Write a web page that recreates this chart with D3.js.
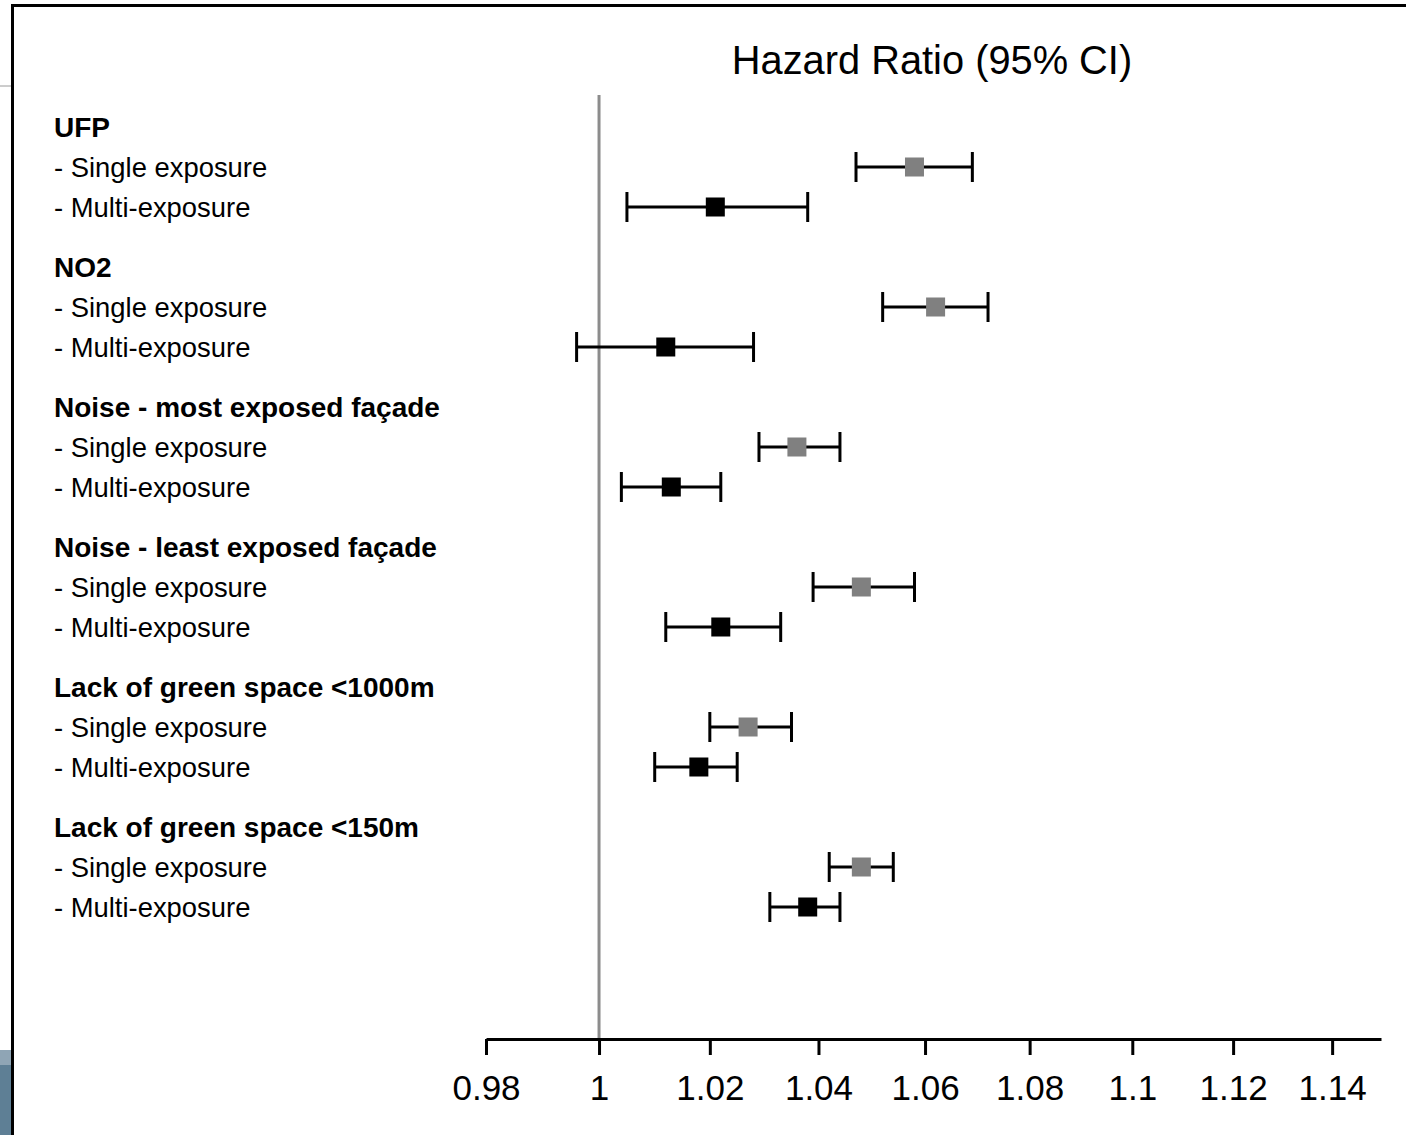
<!DOCTYPE html>
<html>
<head>
<meta charset="utf-8">
<script src="https://cdn.jsdelivr.net/npm/d3@7"></script>
<style>
  html, body { margin: 0; padding: 0; background: #fff; }
  svg { display: block; }
  text { font-family: "Liberation Sans", Arial, sans-serif; }
</style>
</head>
<body>
<svg id="chart" width="1406" height="1135"></svg>
<script>
// ---- data ----
const groups = [
  "UFP",
  "NO2",
  "Noise - most exposed façade",
  "Noise - least exposed façade",
  "Lack of green space <1000m",
  "Lack of green space <150m"
];
const rowLabels = ["- Single exposure", "- Multi-exposure"];
// single exposure: HR, lower, upper
const singleHR    = [1.058, 1.062, 1.036, 1.048, 1.027, 1.048];
const singleLower = [1.047, 1.052, 1.029, 1.039, 1.020, 1.042];
const singleUpper = [1.069, 1.072, 1.044, 1.058, 1.035, 1.054];
// multi-exposure
const multiHR    = [1.021, 1.012, 1.013, 1.022, 1.018, 1.038];
const multiLower = [1.005, 0.996, 1.004, 1.012, 1.010, 1.031];
const multiUpper = [1.038, 1.028, 1.022, 1.033, 1.025, 1.044];
const tickValues = [0.98, 1, 1.02, 1.04, 1.06, 1.08, 1.1, 1.12, 1.14];
const tickLabels = ["0.98", "1", "1.02", "1.04", "1.06", "1.08", "1.1", "1.12", "1.14"];
const title = "Hazard Ratio (95% CI)";

// ---- drawing ----
const svg = d3.select("#chart");

// page artifacts (frame)
svg.append("rect").attr("x", 0).attr("y", 1050).attr("width", 11).attr("height", 15).attr("fill", "#8fa5b5");
svg.append("rect").attr("x", 0).attr("y", 1065).attr("width", 11).attr("height", 70).attr("fill", "#5e7f95");
svg.append("line").attr("x1", 0).attr("x2", 11).attr("y1", 86).attr("y2", 86).attr("stroke", "#9a9a9a").attr("stroke-width", 1);
svg.append("line").attr("x1", 11).attr("x2", 1406).attr("y1", 5.5).attr("y2", 5.5).attr("stroke", "#000").attr("stroke-width", 3);
svg.append("line").attr("x1", 12.5).attr("x2", 12.5).attr("y1", 4).attr("y2", 1135).attr("stroke", "#000").attr("stroke-width", 3);

const x = d3.scaleLog().domain([0.98, 1.15]).range([486, 1381]);
const y = d3.scaleLinear().domain([0, 1]).range([127, 167]); // row index -> y

const rows = [];
groups.forEach((g, i) => {
  const base = i * 3.5;
  rows.push({type: "header", label: g, r: base});
  rows.push({type: "single", label: rowLabels[0], r: base + 1, hr: singleHR[i], lo: singleLower[i], hi: singleUpper[i]});
  rows.push({type: "multi", label: rowLabels[1], r: base + 2, hr: multiHR[i], lo: multiLower[i], hi: multiUpper[i]});
});

// title
svg.append("text").attr("x", 932).attr("y", 74).attr("text-anchor", "middle")
  .attr("font-size", 39.8).attr("fill", "#000").text(title);

// reference line at 1
svg.append("line").attr("x1", x(1)).attr("x2", x(1)).attr("y1", 95).attr("y2", 1039)
  .attr("stroke", "#8c8c8c").attr("stroke-width", 3);

// labels
svg.selectAll("text.lab").data(rows).enter().append("text")
  .attr("class", "lab")
  .attr("x", 54)
  .attr("y", d => y(d.r) + 9.5)
  .attr("font-size", d => d.type === "header" ? 28 : 27.4)
  .attr("font-weight", d => d.type === "header" ? "bold" : "normal")
  .attr("fill", "#000")
  .text(d => d.label);

const est = rows.filter(d => d.type !== "header");
const g = svg.append("g");
g.selectAll("line.ci").data(est).enter().append("line")
  .attr("x1", d => x(d.lo)).attr("x2", d => x(d.hi))
  .attr("y1", d => y(d.r)).attr("y2", d => y(d.r))
  .attr("stroke", "#000").attr("stroke-width", 3);
g.selectAll("line.capl").data(est).enter().append("line")
  .attr("x1", d => x(d.lo)).attr("x2", d => x(d.lo))
  .attr("y1", d => y(d.r) - 15).attr("y2", d => y(d.r) + 15)
  .attr("stroke", "#000").attr("stroke-width", 3);
g.selectAll("line.capr").data(est).enter().append("line")
  .attr("x1", d => x(d.hi)).attr("x2", d => x(d.hi))
  .attr("y1", d => y(d.r) - 15).attr("y2", d => y(d.r) + 15)
  .attr("stroke", "#000").attr("stroke-width", 3);
g.selectAll("rect.pt").data(est).enter().append("rect")
  .attr("x", d => x(d.hr) - 9.5).attr("y", d => y(d.r) - 9.5)
  .attr("width", 19).attr("height", 19)
  .attr("fill", d => d.type === "single" ? "#808080" : "#000");

// x axis
const axis = d3.axisBottom(x).tickValues(tickValues)
  .tickFormat((d, i) => tickLabels[i]).tickSize(16).tickSizeOuter(0);
const ax = svg.append("g").attr("transform", "translate(0,1039)").call(axis);
ax.select(".domain").attr("stroke", "#000").attr("stroke-width", 3);
ax.selectAll(".tick line").attr("stroke", "#000").attr("stroke-width", 3);
ax.selectAll(".tick text").attr("font-size", 35).attr("fill", "#000")
  .attr("font-family", "Liberation Sans, Arial, sans-serif").attr("dy", 0).attr("y", 61);
</script>
</body>
</html>
